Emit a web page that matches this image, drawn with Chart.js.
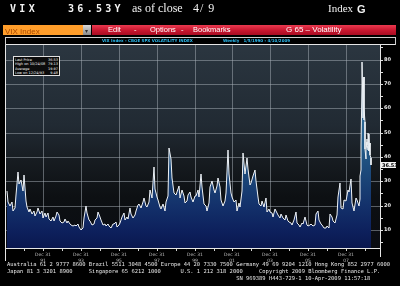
<!DOCTYPE html>
<html>
<head>
<meta charset="utf-8">
<script src="https://cdn.jsdelivr.net/npm/chart.js"></script>
<style>
  html, body { margin: 0; padding: 0; background: #000; }
  #lienzo { position: relative; width: 400px; height: 286px; overflow: hidden; background: #000; }
  #grafico { position: absolute; left: 0; top: 0; }
  .abs { position: absolute; white-space: pre; line-height: 1; }
  .mono { font-family: "DejaVu Sans Mono", monospace; font-weight: bold; font-size: 10px; letter-spacing: 3.3px; color: #f2f2f2; }
  .serif { font-family: "Liberation Serif", serif; font-size: 12px; color: #f2f2f2; }
  .menu { font-family: "Liberation Sans", Arial, sans-serif; font-size: 7.5px; color: #fff; top: 26px; }
  .cian { font-family: "DejaVu Sans", sans-serif; font-weight: bold; font-size: 4px; color: #2cbcf0; top: 39px; }
  #leyenda { position: absolute; left: 13px; top: 56px; width: 47px; height: 20px; background: #0c0c0c; border: 1px solid #e0e0e0; font-family: "DejaVu Sans", sans-serif; font-size: 3.5px; color: #f4f4f4; padding: 0.5px 1px; box-sizing: border-box; }
  #leyenda div { display: flex; justify-content: space-between; height: 4.6px; line-height: 4.6px; overflow: hidden; }
  #pie { position: absolute; left: 7px; top: 261px; font-family: "DejaVu Sans Mono", monospace; font-size: 5.45px; line-height: 7px; color: #e8e8e8; white-space: pre; }
</style>
</head>
<body>
<div id="lienzo">
  <canvas id="grafico" width="400" height="286"></canvas>

  <!-- cabecera -->
  <div class="abs mono" style="left:10px;top:4px">VIX</div>
  <div class="abs mono" style="left:68px;top:4px">36.53Y</div>
  <div class="abs serif" style="left:132px;top:2px">as of close</div>
  <div class="abs serif" style="left:193px;top:2px;letter-spacing:1px">4/ 9</div>
  <div class="abs serif" style="left:328px;top:3px;font-size:11px">Index</div>
  <div class="abs" style="left:357px;top:3px;font:bold 11px 'Liberation Sans',sans-serif;color:#f2f2f2">G</div>

  <!-- barra de herramientas -->
  <div class="abs" style="left:3px;top:25px;width:80px;height:10px;background:#ff9d2a"></div>
  <div class="abs" style="left:5px;top:26.5px;font:8px 'Liberation Sans',sans-serif;color:#a84800">VIX Index</div>
  <div class="abs" style="left:83px;top:25px;width:8px;height:10px;background:linear-gradient(#d8d8d8,#8a8a8a)"></div>
  <div class="abs" style="left:85px;top:27px;font:6px 'DejaVu Sans',sans-serif;color:#333">▾</div>
  <div class="abs" style="left:92px;top:25px;width:304px;height:10px;background:linear-gradient(#ea3a50,#c8162e 55%,#a80c22)"></div>
  <div class="abs menu" style="left:108px">Edit</div>
  <div class="abs menu" style="left:134px">-</div>
  <div class="abs menu" style="left:150px">Options</div>
  <div class="abs menu" style="left:181px">-</div>
  <div class="abs menu" style="left:193px">Bookmarks</div>
  <div class="abs menu" style="left:228px">-</div>
  <div class="abs menu" style="left:286px;font-size:8px;top:25.5px">G 65 – Volatility</div>

  <!-- titulo del grafico -->
  <div class="abs" style="left:5px;top:37px;width:389px;height:7px;border:1px solid #cfcfcf;border-bottom:none"></div>
  <div class="abs cian" style="left:102px">VIX Index - CBOE SPX VOLATILITY INDEX</div>
  <div class="abs cian" style="left:223px">Weekly   1/5/1990 - 4/10/2009</div>

  <!-- cuadro de estadisticas -->
  <div id="leyenda">
    <div><span>Last Price</span><span>36.53</span></div>
    <div><span>High on 10/24/08</span><span>79.13</span></div>
    <div><span>Average</span><span>19.97</span></div>
    <div><span>Low on 12/24/93</span><span>9.48</span></div>
  </div>

  <div id="pie">Australia 61 2 9777 8600 Brazil 5511 3048 4500 Europe 44 20 7330 7500 Germany 49 69 9204 1210 Hong Kong 852 2977 6000
Japan 81 3 3201 8900     Singapore 65 6212 1000      U.S. 1 212 318 2000     Copyright 2009 Bloomberg Finance L.P.
                                                                      SN 969389 H443-729-1 10-Apr-2009 11:57:18</div>
</div>

<script>
// Datos del VIX: mensual desde enero 1990 hasta agosto 2008
const inicioMensual = 1990;
const vixMensual = [
    26.0, 21.5, 20.0, 21.5, 18.0, 19.0, 24.5, 34.0, 29.0, 30.5, 26.0, 32.5, // 1990
    22.0, 19.5, 17.5, 18.5, 16.5, 18.0, 15.8, 17.5, 19.0, 16.5, 17.8, 15.0, // 1991
    17.0, 15.5, 16.8, 14.5, 13.8, 15.5, 13.6, 15.8, 17.2, 16.0, 13.5, 12.8, // 1992
    13.2, 14.5, 12.8, 13.8, 12.5, 12.0, 11.8, 12.2, 11.5, 12.4, 11.2, 10.0, // 1993
    11.0, 14.8, 20.0, 17.0, 14.0, 13.5, 12.2, 12.5, 14.2, 15.0, 17.3, 15.5, // 1994
    14.0, 12.2, 12.5, 11.5, 12.3, 11.8, 11.0, 12.3, 12.6, 13.2, 11.3, 12.0, // 1995
    12.8, 15.2, 16.8, 14.2, 15.3, 14.5, 19.0, 16.5, 15.0, 16.2, 17.8, 20.2, // 1996
    20.5, 19.0, 21.5, 23.0, 20.0, 19.5, 21.5, 26.5, 23.0, 36.0, 27.0, 23.5, // 1997
    22.5, 19.5, 18.5, 20.5, 17.8, 21.5, 24.0, 43.5, 39.0, 31.5, 25.0, 24.5, // 1998
    25.5, 28.0, 23.0, 26.5, 24.0, 21.0, 22.0, 24.5, 25.5, 23.5, 21.5, 24.0, // 1999
    24.0, 26.5, 23.5, 33.0, 27.5, 20.5, 20.0, 18.0, 21.0, 27.5, 30.0, 26.5, // 2000
    25.0, 28.0, 31.5, 27.5, 22.5, 20.0, 22.0, 25.0, 43.0, 33.0, 25.0, 23.5, // 2001
    21.5, 22.5, 18.0, 21.0, 19.5, 26.0, 41.5, 33.0, 39.5, 35.0, 28.5, 29.5, // 2002
    32.0, 34.5, 30.0, 23.5, 20.5, 20.0, 22.0, 19.5, 23.0, 17.5, 18.5, 17.5, // 2003
    17.0, 15.5, 18.5, 17.0, 16.0, 15.0, 16.5, 15.0, 14.0, 16.0, 13.5, 13.2, // 2004
    13.0, 12.0, 14.0, 17.5, 13.0, 12.0, 11.2, 13.0, 12.5, 15.5, 12.0, 11.5, // 2005
    12.0, 12.5, 11.5, 12.0, 16.5, 17.8, 14.0, 12.5, 12.0, 11.0, 10.8, 11.5, // 2006
    11.0, 16.5, 15.5, 13.5, 13.0, 16.0, 23.5, 29.5, 19.0, 18.5, 22.5, 22.0, // 2007
    26.5, 25.5, 31.0, 21.0, 18.0, 23.0, 22.5, 20.0                          // 2008
];

// Tramo final semanal (septiembre 2008 - abril 2009)
const fechasSemanales = [
    '2008-09-05', '2008-09-12', '2008-09-19', '2008-09-26', '2008-10-03', '2008-10-10',
    '2008-10-17', '2008-10-24', '2008-10-31', '2008-11-07', '2008-11-14', '2008-11-21',
    '2008-11-28', '2008-12-05', '2008-12-12', '2008-12-19', '2008-12-26', '2009-01-02',
    '2009-01-09', '2009-01-16', '2009-01-23', '2009-01-30', '2009-02-06', '2009-02-13',
    '2009-02-20', '2009-02-27', '2009-03-06', '2009-03-13', '2009-03-20', '2009-03-27',
    '2009-04-03', '2009-04-10'
];
const vixSemanal = [
    22.6, 25.7, 32.1, 34.7, 45.1, 70.0,
    70.3, 79.13, 59.9, 56.1, 66.3, 72.7,
    55.3, 59.9, 54.3, 44.9, 43.4, 39.2,
    42.8, 46.1, 47.3, 44.8, 43.4, 42.9,
    50.0, 46.4, 49.3, 42.4, 45.9, 40.7,
    39.7, 36.53
];

// Marcas del eje X (diciembre de cada anio) y etiquetas visibles
const aniosMarca = [1990, 1991, 1992, 1993, 1994, 1995, 1996, 1997, 1998, 1999,
                    2000, 2001, 2002, 2003, 2004, 2005, 2006, 2007, 2008];
const aniosEtiqueta = [1991, 1993, 1995, 1997, 1999, 2001, 2003, 2005, 2007];
const mesEtiqueta = 'Dec 31';

// Marcas del eje Y
const marcasY = [5, 10, 15, 20, 25, 30, 35, 40, 45, 50, 55, 60, 65, 70, 75, 80, 85];
const etiquetasY = [10, 20, 30, 40, 50, 60, 70, 80];
const ultimoValor = 36.53;

// Armar los puntos {x: anio decimal, y: valor}
const puntos = vixMensual.map((v, i) => ({ x: inicioMensual + (i + 0.5) / 12, y: v }));
fechasSemanales.forEach((f, i) => {
    const d = new Date(f + 'T00:00:00Z');
    const anio = d.getUTCFullYear();
    const ini = Date.UTC(anio, 0, 1);
    const fin = Date.UTC(anio + 1, 0, 1);
    puntos.push({ x: anio + (d.getTime() - ini) / (fin - ini), y: vixSemanal[i] });
});

const colorGrilla = 'rgba(168,176,184,0.5)';

// Fondo degradado del area del grafico y detalles del marco
const fondoPlugin = {
    id: 'fondo',
    beforeDraw(chart) {
        const { ctx, chartArea: a } = chart;
        const g = ctx.createLinearGradient(0, a.top, 0, a.bottom);
        g.addColorStop(0, '#2b3640');
        g.addColorStop(0.4, '#212a33');
        g.addColorStop(0.58, '#161b20');
        g.addColorStop(0.75, '#0d1013');
        g.addColorStop(1, '#0a0c12');
        ctx.save();
        ctx.fillStyle = g;
        ctx.fillRect(a.left, a.top, a.right - a.left, a.bottom - a.top);
        ctx.restore();
    },
    afterDraw(chart) {
        const { ctx, chartArea: a } = chart;
        const y = chart.scales.y;
        ctx.save();
        ctx.strokeStyle = '#e6e6e6';
        ctx.lineWidth = 1;
        ctx.beginPath();
        ctx.moveTo(5.5, a.top);
        ctx.lineTo(5.5, 261);
        ctx.moveTo(5, a.top + 0.5);
        ctx.lineTo(395, a.top + 0.5);
        ctx.moveTo(a.right + 0.5, a.bottom);
        ctx.lineTo(a.right + 0.5, 257);
        ctx.stroke();

        // recuadro con el ultimo valor
        const py = Math.round(y.getPixelForValue(ultimoValor));
        ctx.fillStyle = '#f4f4f4';
        ctx.fillRect(a.right + 1, py - 3, 15, 6);
        ctx.fillStyle = '#000';
        ctx.font = 'bold 5px "DejaVu Sans"';
        ctx.textBaseline = 'middle';
        ctx.fillText(ultimoValor.toFixed(2), a.right + 2, py + 0.5);
        ctx.restore();
    }
};

// Degradado del relleno bajo la curva
function rellenoAzul(c) {
    const a = c.chart.chartArea;
    if (!a) return '#163a72';
    const g = c.chart.ctx.createLinearGradient(0, a.top, 0, a.bottom);
    g.addColorStop(0, '#a4bacb');
    g.addColorStop(0.1, '#7096b5');
    g.addColorStop(0.3, '#346e9a');
    g.addColorStop(0.5, '#245b88');
    g.addColorStop(0.65, '#1b4678');
    g.addColorStop(0.8, '#13306a');
    g.addColorStop(0.92, '#0d205c');
    g.addColorStop(1, '#0a174e');
    return g;
}

Chart.defaults.font.family = '"DejaVu Sans", sans-serif';

let ctx = document.getElementById('grafico').getContext('2d');
let graficoVix = new Chart(ctx, {
    type: 'line',
    data: {
        datasets: [{
            label: 'VIX Index',
            data: puntos,
            borderColor: '#eef2f6',
            borderWidth: 1,
            backgroundColor: rellenoAzul,
            fill: 'start',
            pointRadius: 0,
            tension: 0
        }]
    },
    options: {
        responsive: false,
        animation: false,
        devicePixelRatio: 1,
        layout: { padding: { left: 6, top: 44, right: 4, bottom: 24 } },
        plugins: {
            legend: { display: false },
            tooltip: { enabled: false }
        },
        scales: {
            x: {
                type: 'linear',
                min: 1990,
                max: 2009.75,
                z: 1,
                alignToPixels: true,
                afterBuildTicks: s => { s.ticks = aniosMarca.map(a => ({ value: a + 0.958 })); },
                afterFit: s => { s.height = 14; },
                grid: {
                    color: c => (c.tick && aniosEtiqueta.includes(Math.round(c.tick.value - 0.958))) ? colorGrilla : 'rgba(0,0,0,0)',
                    tickColor: '#d0d0d0',
                    tickLength: 3
                },
                border: { display: true, color: '#e6e6e6' },
                ticks: {
                    color: '#bdbdbd',
                    font: { size: 4.5, lineHeight: 1.5 },
                    padding: 0,
                    maxRotation: 0,
                    autoSkip: false,
                    callback: v => {
                        const anio = Math.round(v - 0.958);
                        return aniosEtiqueta.includes(anio) ? [mesEtiqueta, String(anio).slice(2)] : '';
                    }
                }
            },
            y: {
                position: 'right',
                min: 2.6,
                max: 86.4,
                z: 1,
                alignToPixels: true,
                afterBuildTicks: s => { s.ticks = marcasY.map(v => ({ value: v })); },
                afterFit: s => { s.width = 16; },
                grid: {
                    color: c => (c.tick && etiquetasY.includes(c.tick.value)) ? colorGrilla : 'rgba(0,0,0,0)',
                    tickColor: '#e0e0e0',
                    tickLength: 3
                },
                border: { display: true, color: '#e6e6e6' },
                ticks: {
                    color: '#f0f0f0',
                    font: { size: 5, weight: 'bold' },
                    padding: 1,
                    callback: v => etiquetasY.includes(v) ? String(v) : ''
                }
            }
        }
    },
    plugins: [fondoPlugin]
});
</script>
</body>
</html>
